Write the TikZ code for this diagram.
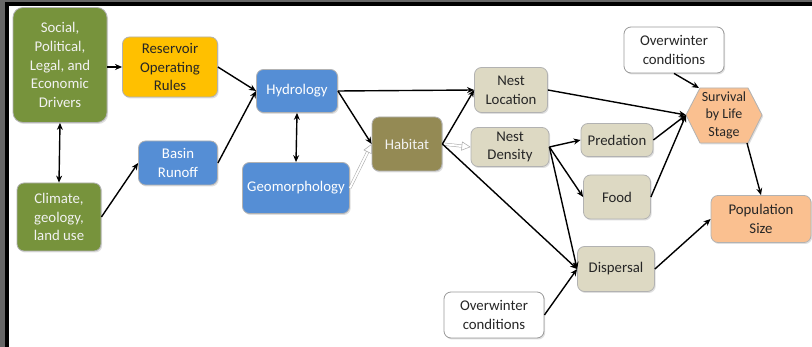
\documentclass[tikz,border=0pt]{standalone}
\usepackage{fontspec}
\setmainfont{Carlito}
\usetikzlibrary{arrows.meta,shadows}
\definecolor{grn}{HTML}{77933C}
\definecolor{gold}{HTML}{FFC000}
\definecolor{blu}{HTML}{558ED5}
\definecolor{hab}{HTML}{948A54}
\definecolor{beige}{HTML}{DDD9C3}
\definecolor{peach}{HTML}{FAC090}
\definecolor{txt}{HTML}{262626}
\definecolor{lighttxt}{HTML}{F2F2F2}
\begin{document}
\begin{tikzpicture}[x=1pt,y=-1pt,
  base/.style={rounded corners=7pt, draw=black!30, line width=0.8pt, align=center, inner sep=0pt,
    font=\fontsize{14.8}{18.8}\selectfont,
    drop shadow={shadow xshift=1.2pt, shadow yshift=-1.5pt, opacity=0.25}},
  greenbox/.style={base, fill=grn, text=lighttxt},
  goldbox/.style={base, fill=gold, text=txt},
  bluebox/.style={base, fill=blu, text=white},
  habbox/.style={base, fill=hab, text=lighttxt},
  beigebox/.style={base, fill=beige, text=txt},
  peachbox/.style={base, fill=peach, text=txt},
  whitebox/.style={base, fill=white, text=txt, draw=black!40},
  arr/.style={-{Stealth[length=7pt,width=6pt]}, line width=1.4pt},
  dbl/.style={{Stealth[length=7pt,width=6pt]}-{Stealth[length=7pt,width=6pt]}, line width=1.4pt},
  hollow/.style={draw=black!35, double=white, double distance=2pt, line width=0.5pt,
    -{Triangle[open,length=9pt,width=9pt,fill=white]}}
]
\useasboundingbox (0,0) rectangle (812,347);
\fill[black!60] (0,0) rectangle (812,347);
\fill[black] (5,2) rectangle (812,347);
\fill[white] (9,6) rectangle (812,347);

\node[greenbox, minimum width=94pt, minimum height=115pt, rounded corners=10pt] (soc) at (60,65) {Social,\\Political,\\Legal, and\\Economic\\Drivers};
\node[goldbox, minimum width=95pt, minimum height=60pt] (res) at (170,67) {Reservoir\\Operating\\Rules};
\node[greenbox, minimum width=84pt, minimum height=68pt] (cli) at (59,217) {Climate,\\geology,\\land use};
\node[bluebox, minimum width=79pt, minimum height=44pt] (bas) at (178,163) {Basin\\Runoff};
\node[bluebox, minimum width=81pt, minimum height=43pt] (hyd) at (297,91) {Hydrology};
\node[bluebox, minimum width=107pt, minimum height=51pt] (geo) at (296,188) {Geomorphology};
\node[habbox, minimum width=70pt, minimum height=54pt] (habn) at (407,144) {Habitat};
\node[beigebox, minimum width=73pt, minimum height=45pt] (nl) at (511,90) {Nest\\Location};
\node[beigebox, minimum width=78pt, minimum height=39pt] (nd) at (510,147) {Nest\\Density};
\node[beigebox, minimum width=72pt, minimum height=33pt] (pred) at (617,140) {Predation};
\node[beigebox, minimum width=67pt, minimum height=44pt] (food) at (617,197) {Food};
\node[beigebox, minimum width=77pt, minimum height=45pt] (disp) at (616,269) {Dispersal};
\node[whitebox, minimum width=100pt, minimum height=46pt] (ow1) at (674,50) {Overwinter\\conditions};
\node[whitebox, minimum width=100pt, minimum height=46pt] (ow2) at (494,315) {Overwinter\\conditions};
\node[peachbox, minimum width=100pt, minimum height=47pt] (pop) at (761,219) {Population\\Size};

\filldraw[fill=peach, draw=black!30, line width=0.8pt, drop shadow={shadow xshift=1.2pt, shadow yshift=-1.5pt, opacity=0.25}]
  (686,115) -- (700,88) -- (748,88) -- (762,115) -- (748,143) -- (700,143) -- cycle;
\node[align=center, text=txt, inner sep=0pt, font=\fontsize{14}{17.5}\selectfont] (surv) at (724,115) {Survival\\by Life\\Stage};
\coordinate (survL) at (686,115);
\coordinate (survTL) at (699,88);
\coordinate (survB) at (747,143);

\draw[arr] (soc.east |- res.west) -- (res.west);
\draw[dbl] (soc.south) -- (cli.north);
\draw[arr] (res.east) -- (hyd.west);
\draw[arr] (bas.east) -- (hyd.west);
\draw[arr] (cli.east) -- (bas.west);
\draw[dbl] (hyd.south) -- (geo.north);
\draw[arr] (hyd.east) -- (nl.west);
\draw[arr] (hyd.east) -- (habn.west);
\draw[hollow] (geo.east) -- (habn.west);
\draw[hollow] (habn.east) -- (nd.west);
\draw[arr] (habn.east) -- (nl.west);
\draw[arr] (habn.east) -- (disp.west);
\draw[arr] (nd.east) -- (pred.west);
\draw[arr] (nd.east) -- (food.west);
\draw[arr] (nd.east) -- (disp.west);
\draw[arr] (ow2.east) -- (disp.west);
\draw[arr] (nl.east) -- (survL);
\draw[arr] (pred.east) -- (survL);
\draw[arr] (food.east) -- (survL);
\draw[arr] (ow1.south) -- (survTL);
\draw[arr] (survB) -- (pop.north);
\draw[arr] (disp.east) -- (pop.west);
\end{tikzpicture}
\end{document}
